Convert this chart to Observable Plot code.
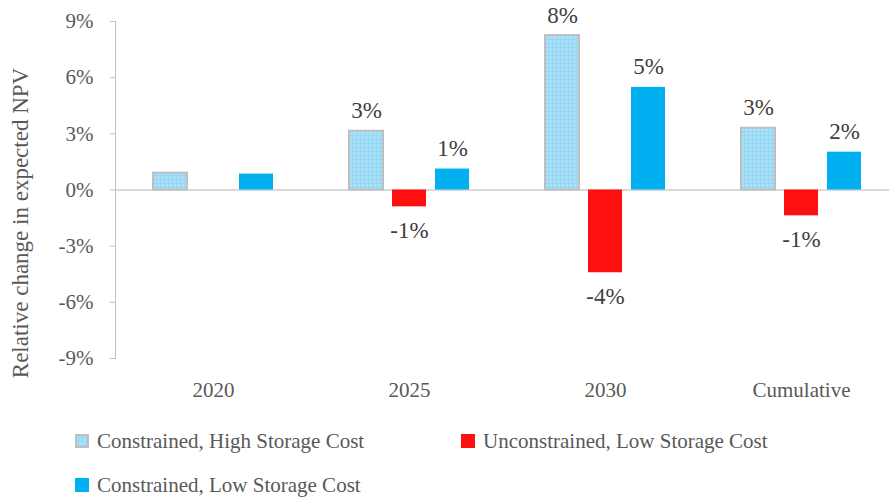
<!DOCTYPE html>
<html>
<head>
<meta charset="utf-8">
<script src="https://cdn.jsdelivr.net/npm/d3@7"></script>
<script src="https://cdn.jsdelivr.net/npm/@observablehq/plot@0.6"></script>
<style>
  body { margin: 0; background: #fff; }
  #chart { width: 889px; height: 499px; position: relative; overflow: hidden; font-family: 'Liberation Serif', 'Times New Roman', Tinos, 'DejaVu Serif', 'Noto Serif', FreeSerif, serif; }
  #chart svg, #chart svg text { font-family: 'Liberation Serif', 'Times New Roman', Tinos, 'DejaVu Serif', 'Noto Serif', FreeSerif, serif !important; }
  .legend { position: absolute; left: 0; top: 420px; width: 889px; font-size: 21px; color: #595959; }
  .row { position: absolute; display: flex; align-items: center; }
  .item { display: flex; align-items: center; }
  .sw { width: 14px; height: 14px; margin-right: 8px; box-sizing: border-box; }
  .ytitle { position: absolute; left: 20px; top: 223px; transform: translate(-50%, -50%) rotate(-90deg); white-space: nowrap; font-size: 23px; color: #595959; line-height: 1; }
</style>
</head>
<body>
<div id="chart"></div>
<script>
const categories = ["2020", "2025", "2030", "Cumulative"];
const seriesNames = ["Constrained, High Storage Cost", "Unconstrained, Low Storage Cost", "Constrained, Low Storage Cost"];
const highConstrained = [0.9, 3.14, 8.25, 3.3];
const lowUnconstrained = [null, -0.9, -4.42, -1.38];
const lowConstrained = [0.85, 1.12, 5.48, 2.02];
const highLabels = [null, "3%", "8%", "3%"];
const unconLabels = [null, "-1%", "-4%", "-1%"];
const lowLabels = [null, "1%", "5%", "2%"];
const yTicks = [-9, -6, -3, 0, 3, 6, 9];
const yTitle = "Relative change in expected NPV";

const colors = ["url(#dots)", "#ff1010", "#00b0f0"];
const rows = [];
const valueSets = [highConstrained, lowUnconstrained, lowConstrained];
const labelSets = [highLabels, unconLabels, lowLabels];
categories.forEach((c, i) => {
  seriesNames.forEach((s, j) => {
    const v = valueSets[j][i];
    if (v != null) rows.push({category: c, series: s, value: v, label: labelSets[j][i]});
  });
});
const labeled = rows.filter(d => d.label != null);

const plot = Plot.plot({
  width: 889,
  height: 420,
  marginTop: 21,
  marginBottom: 62,
  marginLeft: 114,
  marginRight: -10,
  style: {background: "#fff", overflow: "visible"},
  fx: {domain: categories, padding: 0, label: null},
  x: {domain: seriesNames, paddingInner: 0.2045, paddingOuter: 0.833, align: 0.5, axis: null},
  y: {domain: [-9, 9], label: null},
  color: {domain: seriesNames, range: colors},
  marks: [
    Plot.ruleY([0], {stroke: "#d9d9d9", strokeWidth: 2}),
    Plot.frame({anchor: "left", facetAnchor: "left", stroke: "#bfbfbf"}),
    Plot.axisY({ticks: yTicks, tickFormat: d => d + "%", tickSize: 5, tickPadding: 17,
      stroke: "#bfbfbf", fill: "#595959", fontSize: 21, label: null, facetAnchor: "left"}),
    Plot.axisFx({anchor: "bottom", tickSize: 0, tickPadding: 24, fontSize: 21, fill: "#595959", label: null}),
    Plot.barY(rows, {fx: "category", x: "series", y: "value", fill: "series",
      stroke: d => d.series === seriesNames[0] ? "#bfbfbf" : "none", strokeWidth: 2}),
    Plot.text(labeled.filter(d => d.value > 0), {fx: "category", x: "series", y: "value", text: "label",
      lineAnchor: "bottom", dy: -13, fontSize: 23, fill: "#404040"}),
    Plot.text(labeled.filter(d => d.value < 0), {fx: "category", x: "series", y: "value", text: "label",
      lineAnchor: "top", dy: 15, fontSize: 23, fill: "#404040"})
  ]
});

// pattern definition for the dotted fill
const ns = "http://www.w3.org/2000/svg";
const svg = plot.tagName.toLowerCase() === "svg" ? plot : plot.querySelector("svg");
const defs = document.createElementNS(ns, "defs");
defs.innerHTML = `<pattern id="dots" patternUnits="userSpaceOnUse" width="4" height="4">
  <rect width="4" height="4" fill="#a9e1f8"></rect>
  <rect x="0" y="3" width="4" height="1" fill="#95d7f3"></rect>
  <rect x="3" y="0" width="1" height="4" fill="#95d7f3"></rect>
</pattern>`;
svg.insertBefore(defs, svg.firstChild);

const chart = document.getElementById("chart");
chart.appendChild(plot);

const title = document.createElement("div");
title.className = "ytitle";
title.textContent = yTitle;
chart.appendChild(title);

const legend = document.createElement("div");
legend.className = "legend";
const sw = (j) => {
  if (j === 0) return `<svg class="sw" width="14" height="14" style="margin-right:8px"><rect x="1" y="1" width="12" height="12" fill="url(#dots)" stroke="#bfbfbf" stroke-width="2"></rect></svg>`;
  return `<span class="sw" style="background:${colors[j]}"></span>`;
};
legend.innerHTML = `
  <div class="row" style="left:75px; top:7px; height:28px;">
    <div class="item" style="width:386px">${sw(0)}<span>${seriesNames[0]}</span></div>
    <div class="item">${sw(1)}<span>${seriesNames[1]}</span></div>
  </div>
  <div class="row" style="left:75px; top:51px; height:28px;">
    <div class="item">${sw(2)}<span>${seriesNames[2]}</span></div>
  </div>`;
chart.appendChild(legend);
</script>
</body>
</html>
